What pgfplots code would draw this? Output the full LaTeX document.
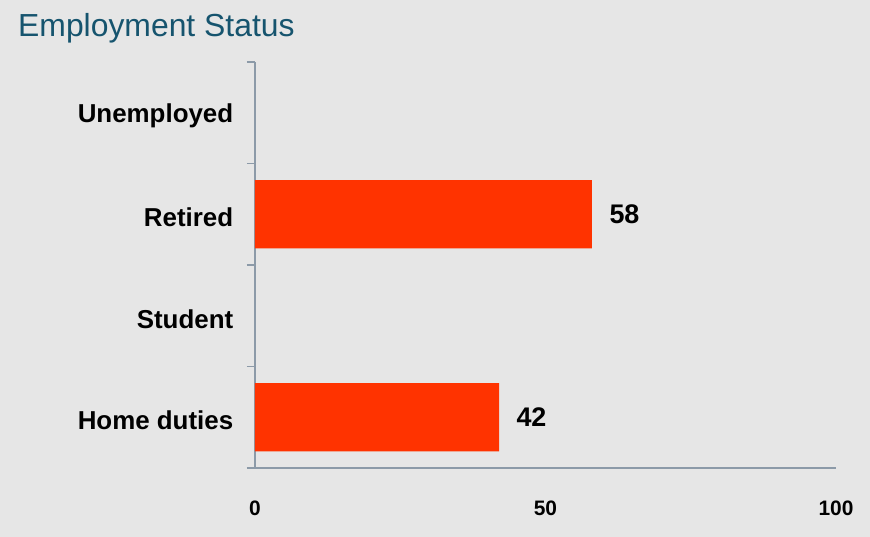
\documentclass[border=0pt]{standalone}
\usepackage{fontspec}
\setmainfont{Liberation Sans}
\usepackage{pgfplots}
\pgfplotsset{compat=1.18}
\usetikzlibrary{backgrounds}
\definecolor{bg}{RGB}{230,230,230}
\definecolor{barred}{RGB}{255,51,0}
\definecolor{axisgray}{RGB}{140,154,168}
\definecolor{titleblue}{RGB}{22,84,110}

\begin{document}
\begin{tikzpicture}
\begin{axis}[
    scale only axis,
    width=581bp, height=406bp,
    xbar,
    bar width=0.67,
    xmin=0, xmax=100,
    ymin=0.5, ymax=4.5,
    axis x line*=bottom,
    axis y line*=left,
    axis line style={axisgray, line width=1.6bp, -},
    /pgf/number format/assume math mode=true,
    xtick={0,50,100},
    xtick style={draw=none},
    xticklabel style={font=\fontsize{21}{21}\selectfont\bfseries, yshift=-29bp},
    ytick={1,2,3,4},
    yticklabels={Home duties, Student, Retired, Unemployed},
    ytick style={draw=none},
    yticklabel style={font=\fontsize{26}{26}\selectfont\bfseries, xshift=-14bp, yshift=-3bp},
    extra y ticks={0.5,1.5,2.5,3.5,4.5},
    extra y tick labels={},
    extra y tick style={major tick length=8bp, tick align=outside,
        ytick style={draw=axisgray, line width=1.6bp},
        major tick style={draw=axisgray, line width=1.6bp}},
    nodes near coords,
    nodes near coords style={font=\fontsize{27}{27}\selectfont\bfseries, black, xshift=14bp},
]
\addplot[draw=none, fill=barred] coordinates {
    (42,1)
    (58,3)
};
\coordinate (O) at (rel axis cs:0,0);
\end{axis}

\begin{scope}[on background layer]
\fill[bg] ([shift={(-255bp,-69bp)}]O) rectangle ([shift={(615bp,468bp)}]O);
\end{scope}

\node[anchor=base west, text=titleblue, font=\fontsize{32}{32}\selectfont, inner sep=0pt]
    at ([shift={(-237bp,431bp)}]O) {Employment Status};

\pgfresetboundingbox
\path[use as bounding box] ([shift={(-255bp,-69bp)}]O) rectangle ([shift={(615bp,468bp)}]O);
\end{tikzpicture}
\end{document}
